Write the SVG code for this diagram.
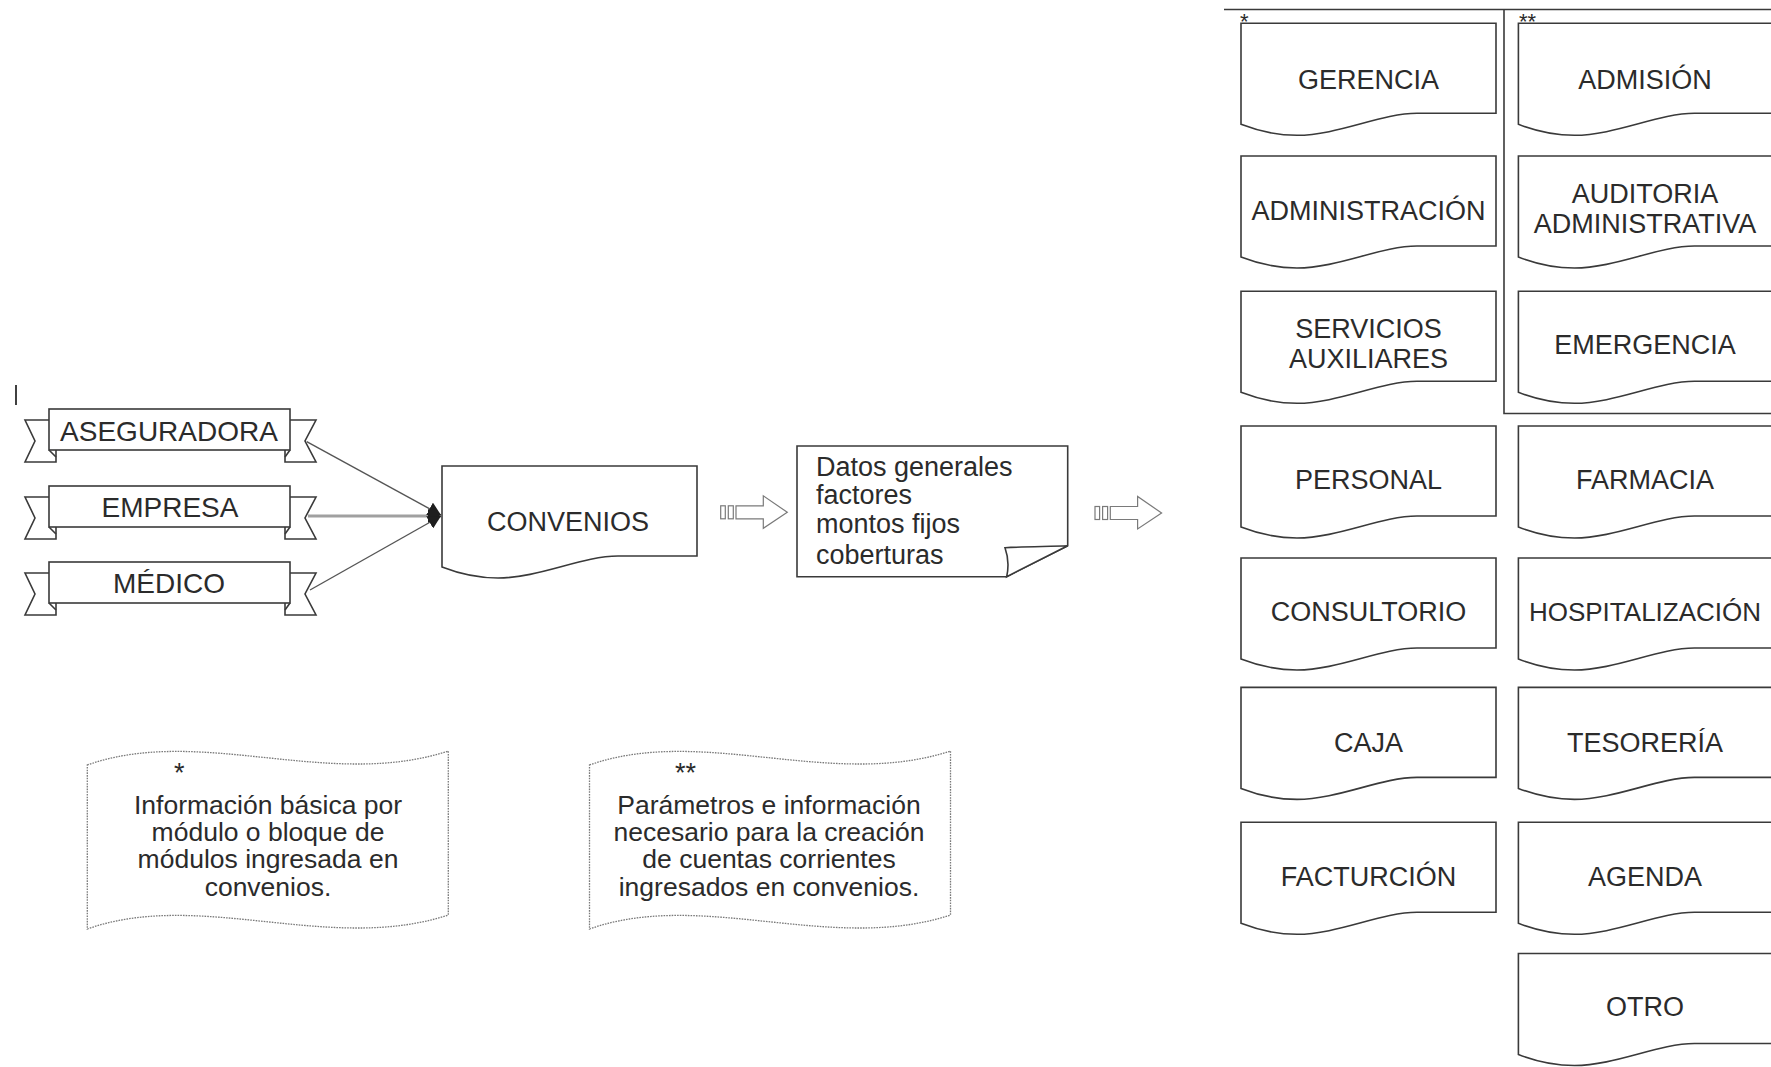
<svg xmlns="http://www.w3.org/2000/svg" width="1771" height="1067" viewBox="0 0 1771 1067">
  <style>
    .t{font-family:"Liberation Sans",Arial,sans-serif;fill:#2b2b2b}
    .c{text-anchor:middle}
    .f27{font-size:27px}
    .f28{font-size:28px}
    .nt{font-size:26.5px}
    .box{fill:#fff;stroke:#3a3a3a;stroke-width:1.6}
    .rib{fill:#fff;stroke:#3a3a3a;stroke-width:1.6;stroke-linejoin:miter}
    .note{fill:#fff;stroke:#7a7a7a;stroke-width:1.3;stroke-dasharray:1.6 1.1}
    .sa{fill:#fff;stroke:#7a7a7a;stroke-width:1.2}
    .conn{stroke:#555;stroke-width:1.4;fill:none}
    .frame{stroke:#3a3a3a;stroke-width:1.6;fill:none}
  </style>
  <defs>
    <!-- document shape with wavy bottom, 255 wide -->
    <path id="doc" d="M0,0 H255 V90 H176 C140,90 97,112 56,112 C36,112 18,108 0,101 Z"/>
    <!-- banner with folded tails, main band 241 x 41 -->
    <g id="ribbon">
      <path class="rib" d="M49,11 H25 L35,32 L25,53 H56 V41"/>
      <path class="rib" d="M290,11 H316 L305,32 L316,53 H285 V41"/>
      <path class="rib" d="M49,41 L56,48 M290,41 L285,48"/>
      <rect class="rib" x="49" y="0" width="241" height="41"/>
    </g>
    <!-- striped block arrow -->
    <g id="striped">
      <rect class="sa" x="0" y="-6.5" width="4.6" height="13"/>
      <rect class="sa" x="7.6" y="-6.5" width="5" height="13"/>
      <path class="sa" d="M15.3,-6.5 H42.6 V-16.5 L66.6,0 L42.6,16 V6.5 H15.3 Z"/>
    </g>
    <!-- wave-shaped note -->
    <path id="wave" d="M87.3,765 C200,725 330,790 448.3,751 V915 C330,954 200,889 87.3,929 Z"/>
    <marker id="ah" viewBox="0 0 13 14" refX="13" refY="7" markerWidth="13" markerHeight="14" markerUnits="userSpaceOnUse" orient="auto">
      <path d="M0,0 L13,7 L0,14 Z" fill="#1e1e1e"/>
    </marker>
  </defs>

  <!-- text cursor mark -->
  <line x1="16" y1="385" x2="16" y2="405" stroke="#111" stroke-width="1.6"/>

  <!-- sources -->
  <g id="aseguradora">
    <use href="#ribbon" y="409"/>
    <text class="t c f28" x="169" y="441">ASEGURADORA</text>
  </g>
  <g id="empresa">
    <use href="#ribbon" y="486"/>
    <text class="t c f28" x="170" y="517">EMPRESA</text>
  </g>
  <g id="medico">
    <use href="#ribbon" y="562"/>
    <text class="t c f28" x="169" y="593">MÉDICO</text>
  </g>

  <!-- connectors -->
  <g id="connectors">
    <line x1="308" y1="516" x2="441" y2="516" stroke="#a0a0a0" stroke-width="3" marker-end="url(#ah)"/>
    <line class="conn" x1="306.7" y1="441.7" x2="441" y2="515" marker-end="url(#ah)"/>
    <line class="conn" x1="310" y1="590" x2="441" y2="516" marker-end="url(#ah)"/>
    <use href="#striped" x="720.7" y="512.3"/>
    <use href="#striped" x="1095" y="513"/>
  </g>

  <g id="convenios">
    <use href="#doc" class="box" x="442" y="466"/>
    <text class="t c f27" x="568" y="531">CONVENIOS</text>
  </g>

  <g id="datos">
    <path class="box" d="M797,446 H1067.7 V545.7 L1006.7,576.7 H797 Z"/>
    <path class="box" d="M1006.7,576.7 C1009,566 1008,556 1005,547.7 C1025,546.5 1050,546.5 1067.7,545.7 Z"/>
    <text class="t f27" x="816" y="475.5">Datos generales</text>
    <text class="t f27" x="816" y="504">factores</text>
    <text class="t f27" x="816" y="533">montos fijos</text>
    <text class="t f27" x="816" y="563.5">coberturas</text>
  </g>

  <!-- notes -->
  <g id="nota-basica">
    <use href="#wave" class="note"/>
    <text class="t f27" x="174" y="782">*</text>
    <text class="t c nt" x="268" y="814">Información básica por</text>
    <text class="t c nt" x="268" y="841">módulo o bloque de</text>
    <text class="t c nt" x="268" y="868">módulos ingresada en</text>
    <text class="t c nt" x="268" y="896">convenios.</text>
  </g>
  <g id="nota-parametros">
    <use href="#wave" class="note" x="502.2"/>
    <text class="t f27" x="675" y="782">**</text>
    <text class="t c nt" x="769" y="814">Parámetros e información</text>
    <text class="t c nt" x="769" y="841">necesario para la creación</text>
    <text class="t c nt" x="769" y="868">de cuentas corrientes</text>
    <text class="t c nt" x="769" y="896">ingresados en convenios.</text>
  </g>

  <!-- module bracket -->
  <g id="bracket">
    <path class="frame" d="M1224,9.5 H1771 M1504,9.5 V413.5 H1771"/>
    <text class="t" style="font-size:22px" x="1240" y="29">*</text>
    <text class="t" style="font-size:22px" x="1519" y="29">**</text>
  </g>

  <!-- left column modules -->
  <g id="gerencia">
    <use href="#doc" class="box" x="1241" y="23.3"/>
    <text class="t c f27" x="1368.5" y="89">GERENCIA</text>
  </g>
  <g id="administracion">
    <use href="#doc" class="box" x="1241" y="156"/>
    <text class="t c f27" x="1368.5" y="220">ADMINISTRACIÓN</text>
  </g>
  <g id="servicios-auxiliares">
    <use href="#doc" class="box" x="1241" y="291.3"/>
    <text class="t c f27" x="1368.5" y="338">SERVICIOS</text>
    <text class="t c f27" x="1368.5" y="368">AUXILIARES</text>
  </g>
  <g id="personal">
    <use href="#doc" class="box" x="1241" y="426"/>
    <text class="t c f27" x="1368.5" y="489">PERSONAL</text>
  </g>
  <g id="consultorio">
    <use href="#doc" class="box" x="1241" y="558"/>
    <text class="t c f27" x="1368.5" y="621">CONSULTORIO</text>
  </g>
  <g id="caja">
    <use href="#doc" class="box" x="1241" y="687.4"/>
    <text class="t c f27" x="1368.5" y="752">CAJA</text>
  </g>
  <g id="facturcion">
    <use href="#doc" class="box" x="1241" y="822.3"/>
    <text class="t c f27" x="1368.5" y="886">FACTURCIÓN</text>
  </g>

  <!-- right column modules -->
  <g id="admision">
    <use href="#doc" class="box" x="1518.4" y="23.3"/>
    <text class="t c f27" x="1645" y="89">ADMISIÓN</text>
  </g>
  <g id="auditoria">
    <use href="#doc" class="box" x="1518.4" y="156"/>
    <text class="t c f27" x="1645" y="203">AUDITORIA</text>
    <text class="t c f27" x="1645" y="233">ADMINISTRATIVA</text>
  </g>
  <g id="emergencia">
    <use href="#doc" class="box" x="1518.4" y="291.3"/>
    <text class="t c f27" x="1645" y="354">EMERGENCIA</text>
  </g>
  <g id="farmacia">
    <use href="#doc" class="box" x="1518.4" y="426"/>
    <text class="t c f27" x="1645" y="489">FARMACIA</text>
  </g>
  <g id="hospitalizacion">
    <use href="#doc" class="box" x="1518.4" y="558"/>
    <text class="t c" style="font-size:26px" x="1645" y="621">HOSPITALIZACIÓN</text>
  </g>
  <g id="tesoreria">
    <use href="#doc" class="box" x="1518.4" y="687.4"/>
    <text class="t c f27" x="1645" y="752">TESORERÍA</text>
  </g>
  <g id="agenda">
    <use href="#doc" class="box" x="1518.4" y="822.3"/>
    <text class="t c f27" x="1645" y="886">AGENDA</text>
  </g>
  <g id="otro">
    <use href="#doc" class="box" x="1518.4" y="953.5"/>
    <text class="t c f27" x="1645" y="1016">OTRO</text>
  </g>
</svg>
